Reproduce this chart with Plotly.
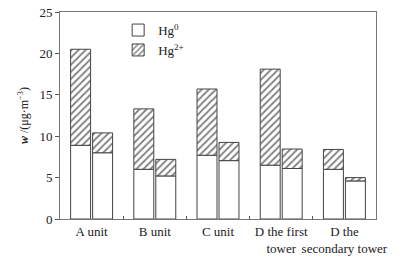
import plotly.graph_objects as go

categories = ["A unit", "B unit", "C unit", "D the first<br>tower", "D the<br>secondary tower"]
hg0_first = [8.9, 6.0, 7.7, 6.5, 6.0]
total_first = [20.5, 13.3, 15.7, 18.1, 8.4]
hg0_second = [8.0, 5.2, 7.05, 6.1, 4.6]
total_second = [10.4, 7.2, 9.25, 8.45, 5.0]

hg2_first = [t - h for t, h in zip(total_first, hg0_first)]
hg2_second = [t - h for t, h in zip(total_second, hg0_second)]

W = 0.316
GAP = 0.016
line = dict(color="#444444", width=1)
pattern = dict(shape="/", fgcolor="#000000", bgcolor="white", size=5, solidity=0.35)
font = "Liberation Serif"

fig = go.Figure()
fig.add_trace(go.Bar(x=categories, y=hg0_first, width=W, offset=-W - GAP,
                     marker=dict(color="white", line=line), name="Hg<sup>0</sup>", legendgroup="a"))
fig.add_trace(go.Bar(x=categories, y=hg2_first, base=hg0_first, width=W, offset=-W - GAP,
                     marker=dict(color="white", line=line, pattern=pattern), name="Hg<sup>2+</sup>", legendgroup="b"))
fig.add_trace(go.Bar(x=categories, y=hg0_second, width=W, offset=GAP,
                     marker=dict(color="white", line=line), showlegend=False, legendgroup="a"))
fig.add_trace(go.Bar(x=categories, y=hg2_second, base=hg0_second, width=W, offset=GAP,
                     marker=dict(color="white", line=line, pattern=pattern), showlegend=False, legendgroup="b"))

fig.update_layout(
    width=403, height=257,
    margin=dict(l=60, r=27, t=12, b=38),
    barmode="overlay",
    plot_bgcolor="white", paper_bgcolor="white",
    font=dict(family=font, size=12, color="#222222"),
    showlegend=True,
    legend=dict(x=0.184, y=0.985, xanchor="left", yanchor="top", bgcolor="rgba(0,0,0,0)",
                font=dict(size=13), itemwidth=30, tracegroupgap=0),
)
fig.update_xaxes(
    type="category", tickson="boundaries", ticks="inside", ticklen=3,
    tickcolor="#555555", showline=True, linecolor="#777777", linewidth=1, mirror=True,
    showgrid=False, tickfont=dict(size=13), range=[-0.5, 4.5], tickangle=0, automargin=False,
)
fig.update_yaxes(
    range=[0, 25], tickvals=[0, 5, 10, 15, 20, 25], ticks="outside", ticklen=4,
    tickcolor="#555555", showline=True, linecolor="#777777", linewidth=1, mirror=True,
    showgrid=False, zeroline=False, tickfont=dict(size=13), automargin=False,
    title=dict(text="<b><i>w</i></b> /(μg·m<sup>−3</sup>)", font=dict(size=12), standoff=8),
)

fig.write_html("out.html", config={"displayModeBar": False},
               post_script="document.body.style.margin='0';")
